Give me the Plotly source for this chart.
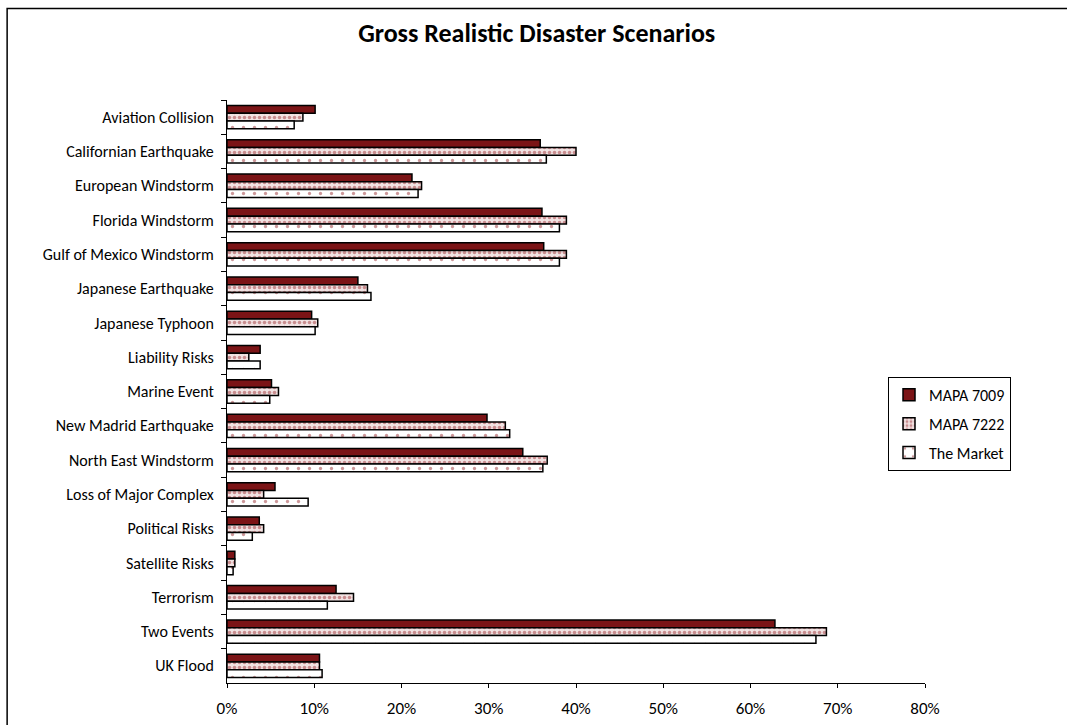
import plotly.graph_objects as go

categories = ["Aviation Collision", "Californian Earthquake", "European Windstorm",
              "Florida Windstorm", "Gulf of Mexico Windstorm", "Japanese Earthquake",
              "Japanese Typhoon", "Liability Risks", "Marine Event", "New Madrid Earthquake",
              "North East Windstorm", "Loss of Major Complex", "Political Risks",
              "Satellite Risks", "Terrorism", "Two Events", "UK Flood"]

mapa_7009 = [10.1, 35.9, 21.2, 36.1, 36.3, 15.0, 9.7, 3.8, 5.1, 29.8, 33.9, 5.5, 3.7, 0.9, 12.5, 62.8, 10.6]
mapa_7222 = [8.7, 40.0, 22.3, 38.9, 38.9, 16.1, 10.4, 2.5, 5.9, 31.9, 36.7, 4.2, 4.2, 0.9, 14.5, 68.7, 10.6]
the_market = [7.7, 36.6, 21.9, 38.1, 38.1, 16.5, 10.1, 3.8, 4.9, 32.4, 36.2, 9.3, 2.9, 0.7, 11.5, 67.5, 10.9]

FONT = "Carlito, Calibri, Lato, sans-serif"
RED = "#7B1416"

fig = go.Figure()
fig.add_trace(go.Bar(
    name="MAPA 7009", y=categories, x=mapa_7009, orientation="h", legendgroup="a",
    marker=dict(color=RED, line=dict(color="black", width=1.5)),
))
fig.add_trace(go.Bar(
    name="MAPA 7222", y=categories, x=mapa_7222, orientation="h", legendgroup="b",
    marker=dict(color="white", line=dict(color="black", width=1.5),
                pattern=dict(shape=".", fgcolor="#A0363A", bgcolor="#F1E2E2", size=5, solidity=0.4)),
))
fig.add_trace(go.Bar(
    name="The Market", y=categories, x=the_market, orientation="h", legendgroup="c",
    marker=dict(color="white", line=dict(color="black", width=1.5),
                pattern=dict(shape=".", fgcolor="#9A3034", bgcolor="white", size=11, solidity=0.07)),
))

fig.update_layout(
    width=1067, height=725,
    margin=dict(l=227, r=142, t=100, b=42, autoexpand=False),
    paper_bgcolor="white", plot_bgcolor="white",
    barmode="group", bargap=0.32, bargroupgap=0,
    font=dict(family=FONT, size=16, color="black"),
    title=dict(text="<b>Gross Realistic Disaster Scenarios</b>", x=0.503, xanchor="center",
               y=0.955, yanchor="middle", font=dict(family=FONT, size=26, color="black")),
    xaxis=dict(range=[0, 80], dtick=10, ticksuffix="%", showgrid=False, zeroline=False,
               automargin=False,
               showline=True, linecolor="black", linewidth=1, ticks="outside", ticklen=4,
               tickcolor="black", tickfont=dict(size=17), ticklabelstandoff=6),
    yaxis=dict(autorange="reversed", showgrid=False, showline=True, linecolor="black",
               automargin=False,
               linewidth=1, ticks="outside", ticklen=5, tickcolor="black",
               tickson="boundaries", tickfont=dict(size=16), ticklabelstandoff=9),
    legend=dict(x=0.947, y=0.525, xanchor="left", yanchor="top", bordercolor="black",
                borderwidth=1, bgcolor="white", font=dict(size=16), tracegroupgap=5,
                itemwidth=30),
    shapes=[dict(type="rect", xref="paper", yref="paper", x0=-0.315, x1=1.25, y0=-0.1, y1=1.157,
                 line=dict(color="black", width=1.5), fillcolor="rgba(0,0,0,0)", layer="below")],
)

fig.write_html("out.html")
